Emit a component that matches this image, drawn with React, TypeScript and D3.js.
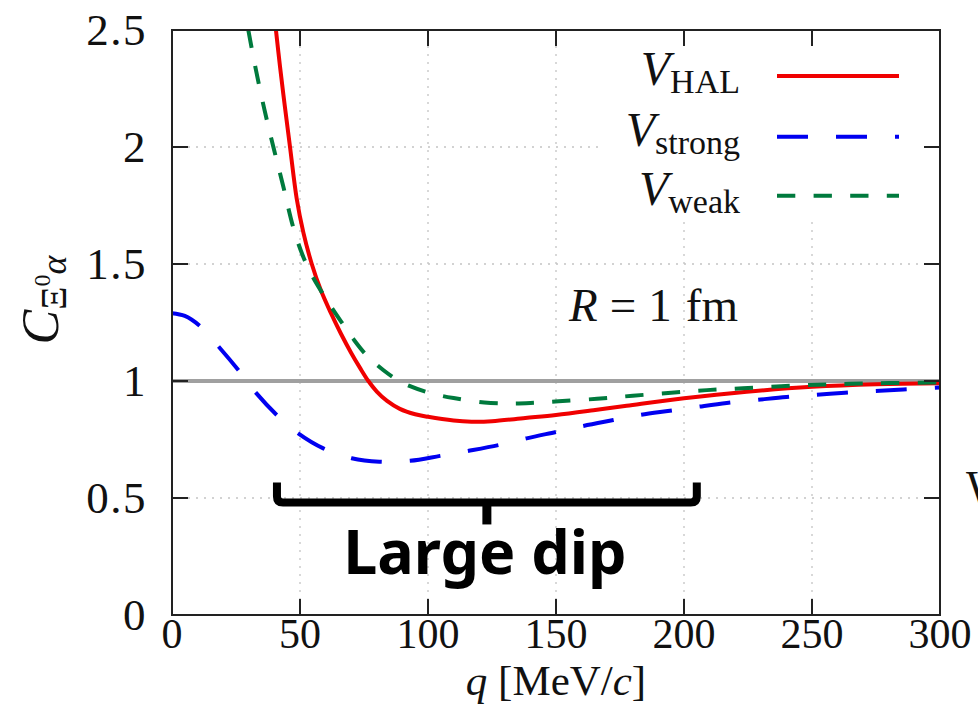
import React from "react";
import * as d3 from "d3";

const W = 978;
const H = 709;
const plot = { left: 172, right: 940, top: 30, bottom: 615 };

// Axis ticks
const qTicks = [0, 50, 100, 150, 200, 250, 300];
const cTicks = [0, 0.5, 1, 1.5, 2, 2.5];
const cTickLabels = ["0", "0.5", "1", "1.5", "2", "2.5"];

// Correlation function C(q) for each potential, [q (MeV/c), C]
const halCurve: [number, number][] = [
  [40.6, 2.5], [42.2, 2.343], [44.1, 2.172], [46.1, 2.0], [48.7, 1.78], [51.3, 1.635],
  [54.6, 1.5], [58, 1.392], [62, 1.292], [66, 1.202], [70, 1.12], [73.5, 1.055],
  [76.7, 1.0], [80, 0.955], [84, 0.915], [89, 0.881], [95, 0.858], [100, 0.847],
  [110, 0.831], [117, 0.826], [125, 0.828], [138, 0.842], [150, 0.855], [164.6, 0.875],
  [177.6, 0.894], [200, 0.926], [224.5, 0.954], [250, 0.975], [275, 0.986], [300, 0.99],
];
const strongCurve: [number, number][] = [
  [0, 1.29], [5, 1.278], [10.9, 1.235], [18.75, 1.14], [25.9, 1.047], [33, 0.947],
  [40.9, 0.855], [49.3, 0.776], [59.1, 0.712], [70.2, 0.67], [81, 0.655], [93, 0.659],
  [104.7, 0.68], [115, 0.7], [127.5, 0.726], [138.5, 0.755], [150.3, 0.783], [160.7, 0.808],
  [172.4, 0.833], [182.8, 0.855], [194.5, 0.873], [205.6, 0.89], [216.7, 0.906], [228.4, 0.919],
  [240, 0.932], [251, 0.941], [262.9, 0.95], [274, 0.957], [285.7, 0.964], [300, 0.972],
];
const weakCurve: [number, number][] = [
  [29.8, 2.5], [32.4, 2.35], [36, 2.165], [39.6, 2.0], [43.5, 1.83], [47.4, 1.655],
  [51.3, 1.53], [55, 1.445], [58.5, 1.38], [62, 1.32], [66, 1.255], [70.8, 1.18],
  [76, 1.11], [82.5, 1.047], [88, 1.005], [93, 0.978], [101, 0.948], [110, 0.927],
  [122, 0.908], [132, 0.904], [140, 0.906], [151, 0.913], [166, 0.924], [180, 0.937],
  [195, 0.95], [209, 0.961], [223, 0.969], [238, 0.978], [252, 0.984], [265, 0.988],
  [280, 0.991], [300, 0.994],
];

const seriesSubs = ["HAL", "strong", "weak"];
const seriesColors = ["#f00000", "#0000f0", "#007a3d"];
const seriesDash = ["none", "31,28", "18.3,18.3"];
const seriesData = [halCurve, strongCurve, weakCurve];

// Bracket marking the dip region: q range and level of the bar
const dipRange = [41, 205];
const dipLevel = 0.481;

const serif = "'Liberation Serif', 'Times New Roman', serif";

export default function App() {
  const x = d3.scaleLinear().domain([0, 300]).range([plot.left, plot.right]);
  const y = d3.scaleLinear().domain([0, 2.5]).range([plot.bottom, plot.top]);
  const line = d3
    .line<[number, number]>()
    .x((d) => x(d[0]))
    .y((d) => y(d[1]))
    .curve(d3.curveCatmullRom.alpha(0.5));

  const tickLen = 16;
  const legendX0 = 777;
  const legendX1 = 899;
  const legendRows = [76, 136.7, 195.7];

  // bracket geometry
  const bx0 = x(dipRange[0]);
  const bx1 = x(dipRange[1]);
  const by = y(dipLevel);
  const bmid = (bx0 + bx1) / 2;
  const r = 6;
  const bracketPath = `M${bx0},${by - 20} L${bx0},${by - r} Q${bx0},${by} ${bx0 + r},${by} L${bx1 - r},${by} Q${bx1},${by} ${bx1},${by - r} L${bx1},${by - 20}`;

  return (
    <svg width={W} height={H} style={{ display: "block", position: "absolute", left: 0, top: 0 }}>
      <rect width={W} height={H} fill="#fff" />
      <defs>
        <clipPath id="plotClip">
          <rect x={plot.left} y={plot.top} width={plot.right - plot.left} height={plot.bottom - plot.top} />
        </clipPath>
      </defs>

      {/* dotted grid */}
      <g stroke="#c4c4c4" strokeWidth={1.3} strokeDasharray="2,6">
        {qTicks.slice(1, -1).map((t) => (
          <line key={"gx" + t} x1={x(t)} x2={x(t)} y1={plot.top} y2={plot.bottom} />
        ))}
        {cTicks.slice(1, -1).map((t) => (
          <line key={"gy" + t} x1={plot.left} x2={plot.right} y1={y(t)} y2={y(t)} />
        ))}
      </g>

      {/* reference line C = 1 */}
      <line x1={plot.left} x2={plot.right} y1={y(1)} y2={y(1)} stroke="#a0a0a0" strokeWidth={4} />

      {/* curves */}
      <g clipPath="url(#plotClip)" fill="none">
        {seriesData.map((d, i) => (
          <path
            key={"s" + i}
            d={line(d) || ""}
            stroke={seriesColors[i]}
            strokeWidth={4}
            strokeDasharray={seriesDash[i]}
          />
        ))}
      </g>

      {/* legend box */}
      <rect x={600} y={46} width={318} height={176} fill="#fff" />
      {seriesSubs.map((s, i) => (
        <g key={"lg" + i}>
          <text x={740} y={legendRows[i] + 9} textAnchor="end" fontFamily={serif} fill="#111">
            <tspan fontStyle="italic" fontSize={48}>V</tspan>
            <tspan fontSize={34} dy={8}>{s}</tspan>
          </text>
          <line
            x1={legendX0}
            x2={legendX1}
            y1={legendRows[i]}
            y2={legendRows[i]}
            stroke={seriesColors[i]}
            strokeWidth={4}
            strokeDasharray={seriesDash[i]}
          />
        </g>
      ))}

      {/* frame and ticks */}
      <g stroke="#222" strokeWidth={2}>
        {qTicks.slice(1, -1).map((t) => (
          <g key={"tx" + t}>
            <line x1={x(t)} x2={x(t)} y1={plot.bottom} y2={plot.bottom - tickLen} />
            <line x1={x(t)} x2={x(t)} y1={plot.top} y2={plot.top + tickLen} />
          </g>
        ))}
        {cTicks.slice(1, -1).map((t) => (
          <g key={"ty" + t}>
            <line x1={plot.left} x2={plot.left + tickLen} y1={y(t)} y2={y(t)} />
            <line x1={plot.right} x2={plot.right - tickLen} y1={y(t)} y2={y(t)} />
          </g>
        ))}
        <rect
          x={plot.left}
          y={plot.top}
          width={plot.right - plot.left}
          height={plot.bottom - plot.top}
          fill="none"
        />
      </g>

      {/* tick labels */}
      <g fontFamily={serif} fill="#111">
        {qTicks.map((t) => (
          <text key={"lx" + t} x={x(t)} y={648} textAnchor="middle" fontSize={42}>
            {t}
          </text>
        ))}
        {cTicks.map((t, i) => (
          <text key={"ly" + t} x={147} y={y(t) + 15} textAnchor="end" fontSize={45} letterSpacing={1.5}>
            {cTickLabels[i]}
          </text>
        ))}
      </g>

      {/* axis titles */}
      <text x={(plot.left + plot.right) / 2} y={695} textAnchor="middle" fontFamily={serif} fontSize={43} fill="#111">
        <tspan fontStyle="italic">q</tspan>
        <tspan> [MeV/</tspan>
        <tspan fontStyle="italic">c</tspan>
        <tspan>]</tspan>
      </text>
      <text transform="translate(58,300) rotate(-90)" textAnchor="middle" fontFamily={serif} fill="#111">
        <tspan fontStyle="italic" fontSize={52}>C</tspan>
        <tspan fontSize={36} dy={8}>Ξ</tspan>
        <tspan fontSize={24} dy={-16}>0</tspan>
        <tspan fontStyle="italic" fontSize={36} dy={16}>α</tspan>
      </text>

      {/* source radius */}
      <text x={569} y={321} fontFamily={serif} fontSize={47} fill="#111">
        <tspan fontStyle="italic">R</tspan>
        <tspan dx={12}>=</tspan>
        <tspan dx={12}>1</tspan>
        <tspan dx={14}>fm</tspan>
      </text>

      {/* dip annotation */}
      <path d={bracketPath} fill="none" stroke="#000" strokeWidth={8} strokeLinejoin="round" />
      <line x1={bmid} x2={bmid} y1={by} y2={by + 22} stroke="#000" strokeWidth={9} />
      <text
        x={bmid - 2}
        y={574}
        textAnchor="middle"
        fontFamily="'Noto Sans', 'Open Sans', sans-serif"
        fontWeight={700}
        fontSize={61}
        fill="#000"
      >
        Large dip
      </text>

      {/* neighbouring slide text */}
      <text x={966} y={503} fontFamily={serif} fontSize={46} fill="#111">W</text>
    </svg>
  );
}
